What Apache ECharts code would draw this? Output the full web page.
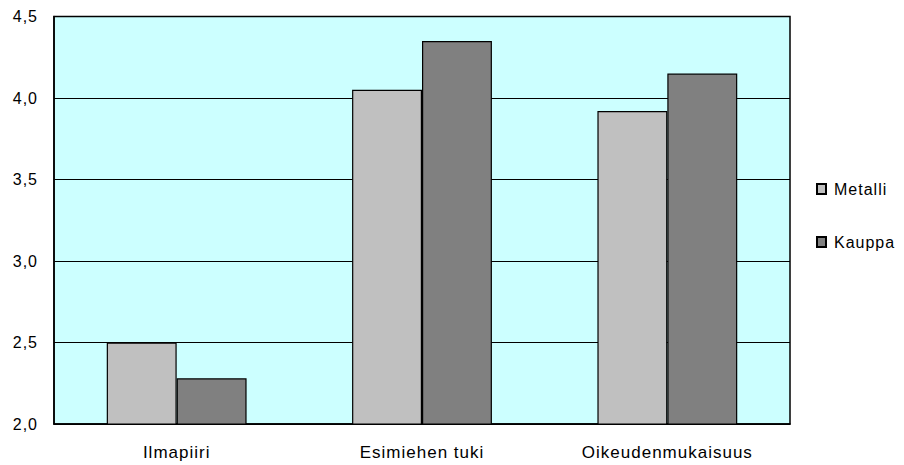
<!DOCTYPE html>
<html>
<head>
<meta charset="utf-8">
<script src="https://cdn.jsdelivr.net/npm/echarts@6/dist/echarts.min.js"></script>
<style>
  html, body { margin: 0; padding: 0; background: #fff; }
  #chart { width: 904px; height: 465px; }
  /* slightly loosened type, as in the spreadsheet-style output */
  #chart svg text { letter-spacing: 1px; }
</style>
</head>
<body>
<div id="chart"></div>
<script>
// Survey scale averages per dimension
const categories = ['Ilmapiiri', 'Esimiehen tuki', 'Oikeudenmukaisuus'];
const metalli = [2.50, 4.05, 3.92];
const kauppa = [2.28, 4.35, 4.15];
const yTicks = { min: 2.0, max: 4.5, step: 0.5 };

const font = 'Liberation Sans, Arial, sans-serif';

const chart = echarts.init(document.getElementById('chart'), null, { renderer: 'svg' });
chart.setOption({
  animation: false,
  backgroundColor: '#ffffff',
  grid: {
    left: 54, right: 114, top: 16.5, bottom: 41,
    show: true,
    backgroundColor: '#CCFFFF',
    borderColor: '#000000',
    borderWidth: 1.5
  },
  legend: {
    orient: 'vertical',
    left: 811,
    top: 176,
    itemGap: 37,
    itemWidth: 9,
    itemHeight: 10,
    icon: 'rect',
    textStyle: { fontFamily: font, fontSize: 16, color: '#000', padding: [0, 0, 0, 3] },
    data: ['Metalli', 'Kauppa']
  },
  xAxis: {
    type: 'category',
    data: categories,
    axisTick: { show: false },
    axisLine: { lineStyle: { color: '#000', width: 1.5 } },
    axisLabel: { fontFamily: font, fontSize: 17, color: '#000', margin: 20 },
    splitLine: { show: false }
  },
  yAxis: {
    type: 'value',
    min: yTicks.min,
    max: yTicks.max,
    interval: yTicks.step,
    axisLine: { show: true, lineStyle: { color: '#000', width: 1.5 } },
    axisTick: { show: false },
    axisLabel: {
      fontFamily: font, fontSize: 16, color: '#000', margin: 16,
      formatter: v => v.toFixed(1).replace('.', ',')
    },
    splitLine: { show: true, lineStyle: { color: '#000', width: 1 } }
  },
  series: [
    {
      name: 'Metalli',
      type: 'bar',
      data: metalli,
      barGap: '0%',
      barCategoryGap: '43%',
      itemStyle: { color: '#C0C0C0', borderColor: '#000', borderWidth: 1.2 }
    },
    {
      name: 'Kauppa',
      type: 'bar',
      data: kauppa,
      barGap: '0%',
      barCategoryGap: '43%',
      itemStyle: { color: '#808080', borderColor: '#000', borderWidth: 1.2 }
    }
  ]
});
</script>
</body>
</html>
